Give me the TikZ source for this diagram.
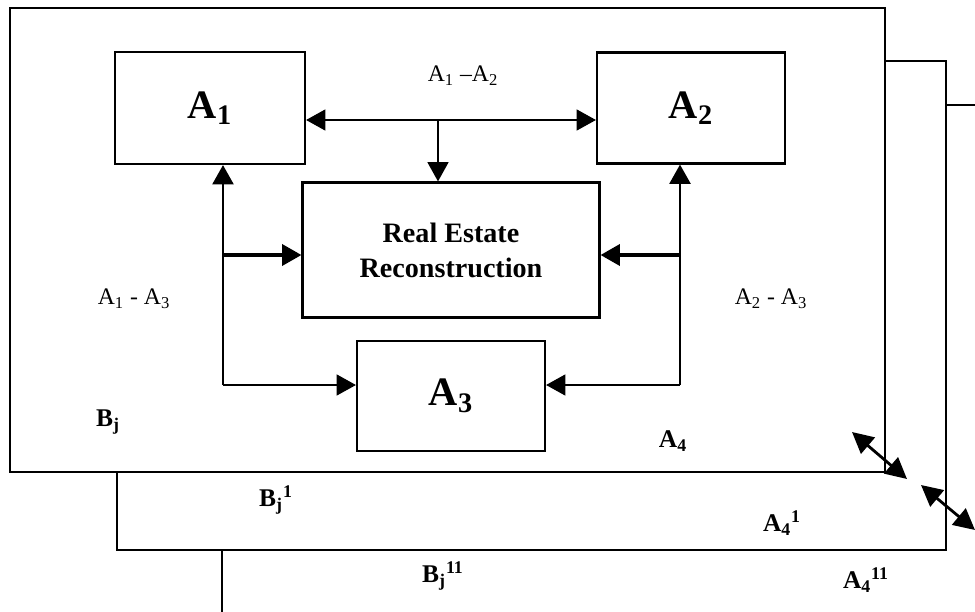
\documentclass[tikz,border=0pt]{standalone}
\usepackage{fontspec}
\setmainfont{Liberation Serif}
\usetikzlibrary{arrows.meta}

\tikzstyle{blk}=[draw, line width=1.25pt, inner sep=0pt, font=\bfseries\fontsize{23}{25}\selectfont]
\tikzstyle{lbl}=[font=\fontsize{13.5}{15}\selectfont]
\tikzstyle{tag}=[font=\bfseries\fontsize{14.5}{16}\selectfont]
\tikzstyle{link}=[line width=0.8pt]
\tikzstyle{jump}=[line width=1.6pt, {Triangle[length=12pt,width=12pt]}-{Triangle[length=12pt,width=12pt]}]

\begin{document}
\begin{tikzpicture}[x=0.02cm, y=-0.02cm, >={Triangle[length=11pt,width=12pt]}]
    \useasboundingbox (0,0) rectangle (975,612);
    \draw[line width=1.25pt] (885,61) -- (946,61) -- (946,550) -- (117,550) -- (117,472);
    \draw[line width=1.25pt] (946,105) -- (975,105);
    \draw[line width=1.25pt] (222,550) -- (222,612);
    \draw[line width=1.4pt, fill=white] (10,8) rectangle (885,472);

    \node [blk, minimum width=3.8cm, minimum height=2.24cm] (a1) at (210,108) {A\textsubscript{1}};
    \node [blk, minimum width=3.76cm, minimum height=2.22cm] (a2) at (691,108) {A\textsubscript{2}};
    \node [blk, minimum width=5.94cm, minimum height=2.7cm, align=center,
           font=\bfseries\fontsize{16}{20}\selectfont] (re) at (451,250) {Real Estate\\Reconstruction};
    \node [blk, minimum width=3.76cm, minimum height=2.2cm] (a3) at (451,396) {A\textsubscript{3}};

    \coordinate (mid) at (438,120);
    \coordinate (lm) at (223,255);
    \coordinate (lb) at (223,385);
    \coordinate (rm) at (680,255);
    \coordinate (rb) at (680,385);
    \draw[link, <->] (a1.east |- mid) -- (a2.west |- mid);
    \draw[link, ->] (mid) -- (mid |- re.north);
    \draw[line width=1.3pt, ->] (lb) -- (lb |- a1.south);
    \draw[line width=1.3pt, ->] (rb) -- (rb |- a2.south);
    \draw[line width=1.9pt, ->] (lm) -- (re.west |- lm);
    \draw[line width=1.9pt, ->] (rm) -- (re.east |- rm);
    \draw[link, ->] (lb) -- (a3.west |- lb);
    \draw[link, ->] (rb) -- (a3.east |- rb);

    \coordinate (c1) at (852,432);
    \coordinate (c2) at (907,479);
    \coordinate (c3) at (921,485);
    \coordinate (c4) at (975,530);
    \draw[jump] (c1) -- (c2);
    \draw[jump] (c3) -- (c4);

    \node [lbl] (l12) at (463,76) {A\textsubscript{1} –A\textsubscript{2}};
    \node [lbl] (l13) at (134,299) {A\textsubscript{1} - A\textsubscript{3}};
    \node [lbl] (l23) at (771,299) {A\textsubscript{2} - A\textsubscript{3}};
    \node [tag] (bj) at (108,422) {B\textsubscript{j}};
    \node [tag] (a4) at (673,441) {A\textsubscript{4}};
    \node [tag] (bj1) at (276,500) {B\textsubscript{j}\textsuperscript{1}};
    \node [tag] (a41) at (782,523) {A\textsubscript{4}\textsuperscript{1}};
    \node [tag] (bj11) at (443,576) {B\textsubscript{j}\textsuperscript{11}};
    \node [tag] (a411) at (866,580) {A\textsubscript{4}\textsuperscript{11}};
\end{tikzpicture}
\end{document}
